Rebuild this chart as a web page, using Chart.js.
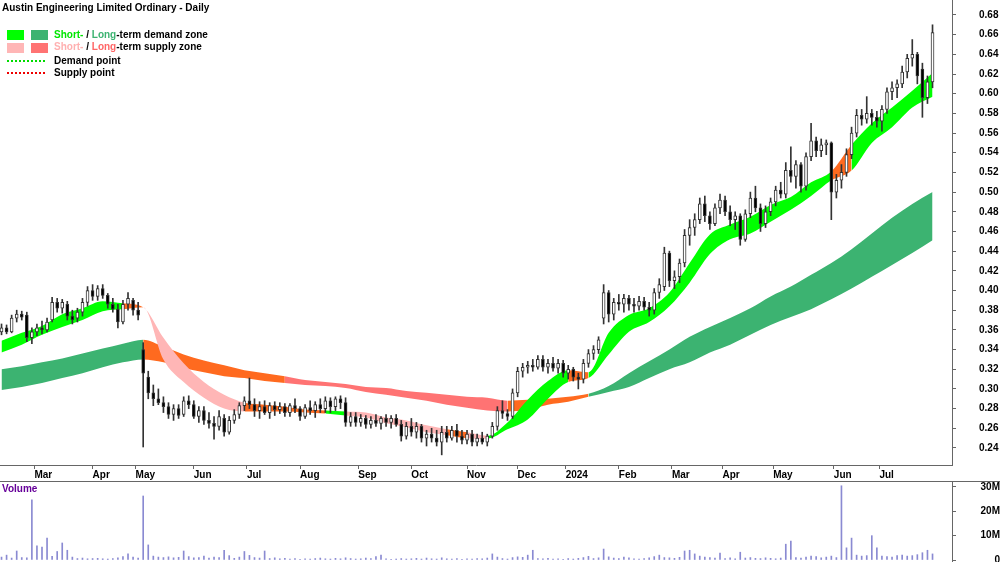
<!DOCTYPE html>
<html>
<head>
<meta charset="utf-8">
<title>Austin Engineering Limited Ordinary - Daily</title>
<script src="https://cdn.jsdelivr.net/npm/chart.js@4.4.1/dist/chart.umd.min.js"></script>
<style>
    body { margin: 0; background: #fff; }
    #wrap { position: relative; width: 1000px; height: 562px; overflow: hidden; background: #fff; }
    #priceBox { position: absolute; left: 0; top: 0; width: 1000px; height: 482px; }
    #volBox { position: absolute; left: 0; top: 481px; width: 1000px; height: 81px; border-top: 1px solid #666; box-sizing: border-box; }
    .ov { position: absolute; font: bold 10px "Liberation Sans", Arial, sans-serif; color: #000; white-space: nowrap; line-height: 12px; z-index: 2; }
    .sw { position: absolute; width: 17px; height: 10px; z-index: 2; }
    .dots { position: absolute; left: 7px; width: 38px; height: 0; border-top: 2px dotted; z-index: 2; }
</style>
</head>
<body>
<div id="wrap">
    <div id="priceBox"><canvas id="priceChart" width="1000" height="482"></canvas></div>
    <div id="volBox"><canvas id="volChart" width="1000" height="80"></canvas></div>

    <div class="ov" style="left:2px;top:2px">Austin Engineering Limited Ordinary - Daily</div>

    <div class="sw" style="left:7px;top:30px;background:#00ff00"></div>
    <div class="sw" style="left:31px;top:30px;background:#3cb371"></div>
    <div class="ov" style="left:54px;top:29px"><span style="color:#00e600">Short-</span> / <span style="color:#3cb371">Long</span>-term demand zone</div>

    <div class="sw" style="left:7px;top:43px;background:#ffb6b6"></div>
    <div class="sw" style="left:31px;top:43px;background:#ff7373"></div>
    <div class="ov" style="left:54px;top:41px"><span style="color:#ffb0b0">Short-</span> / <span style="color:#ff6666">Long</span>-term supply zone</div>

    <div class="dots" style="top:60px;border-color:#00dd00"></div>
    <div class="ov" style="left:54px;top:55px">Demand point</div>

    <div class="dots" style="top:72px;border-color:#ee0000"></div>
    <div class="ov" style="left:54px;top:67px">Supply point</div>

    <div class="ov" style="left:2px;top:483px;color:#660099">Volume</div>
</div>

<script>
// ===============================
// DATA
// ===============================
// x = trading-day number (one candle every 2 days), month ticks at first day of month
const monthIdx = [13, 36, 53, 76, 97, 118, 141, 162, 184, 204, 223, 244, 265, 285, 305, 329, 347];
const monthLabels = ['Mar', 'Apr', 'May', 'Jun', 'Jul', 'Aug', 'Sep', 'Oct', 'Nov', 'Dec',
    '2024', 'Feb', 'Mar', 'Apr', 'May', 'Jun', 'Jul'];

const priceTicks = [0.24, 0.26, 0.28, 0.30, 0.32, 0.34, 0.36, 0.38, 0.40, 0.42, 0.44, 0.46,
    0.48, 0.50, 0.52, 0.54, 0.56, 0.58, 0.60, 0.62, 0.64, 0.66, 0.68];
const volTicks = [0, 10, 20, 30]; // millions

const opens = [
    .358, .362, .358, .372, .376, .375, .352, .358, .362, .360,
    .370, .388, .382, .386, .374, .372, .378, .388, .400, .394,
    .402, .395, .386, .381, .368, .386, .390, .380, .340, .312,
    .296, .290, .286, .282, .274, .280, .274, .288, .284, .272,
    .278, .268, .265, .262, .270, .256, .268, .274, .283, .288,
    .284, .278, .282, .276, .283, .279, .282, .276, .283, .280,
    .272, .281, .278, .284, .280, .288, .282, .290, .286, .266,
    .272, .266, .270, .264, .268, .265, .270, .266, .270, .264,
    .252, .262, .256, .262, .250, .254, .250, .246, .256, .250,
    .258, .252, .248, .254, .246, .250, .246, .252, .262, .278,
    .275, .272, .296, .318, .322, .324, .322, .330, .322, .326,
    .321, .326, .316, .320, .312, .310, .326, .336, .340, .372,
    .398, .376, .388, .386, .392, .386, .384, .389, .383, .380,
    .398, .404, .438, .410, .414, .428, .456, .464, .472, .488,
    .476, .468, .484, .492, .480, .472, .476, .452, .478, .494,
    .484, .468, .480, .490, .502, .498, .522, .516, .528, .506,
    .536, .552, .542, .548, .550, .500, .512, .520, .538, .560,
    .578, .574, .580, .576, .572, .584, .602, .606, .610, .622,
    .636, .640, .625, .596, .612
];
const highs = [
    .366, .365, .375, .380, .379, .378, .362, .366, .369, .372,
    .393, .392, .391, .389, .380, .382, .392, .404, .406, .405,
    .406, .397, .392, .386, .390, .398, .392, .388, .347, .318,
    .304, .300, .292, .286, .284, .284, .292, .293, .288, .282,
    .282, .276, .272, .278, .274, .272, .279, .286, .292, .311,
    .290, .287, .288, .286, .287, .286, .285, .285, .290, .282,
    .284, .288, .287, .290, .292, .291, .292, .293, .291, .276,
    .276, .274, .273, .272, .274, .272, .274, .273, .274, .268,
    .266, .270, .266, .264, .258, .260, .258, .262, .262, .262,
    .264, .258, .258, .258, .254, .256, .254, .266, .282, .288,
    .279, .300, .322, .326, .328, .330, .334, .334, .330, .332,
    .330, .329, .324, .322, .316, .330, .340, .344, .353, .406,
    .400, .392, .396, .396, .395, .392, .394, .393, .388, .402,
    .412, .444, .440, .420, .432, .462, .472, .478, .494, .496,
    .480, .488, .498, .496, .486, .480, .478, .482, .500, .506,
    .488, .486, .494, .506, .510, .530, .546, .532, .530, .540,
    .570, .556, .554, .553, .551, .518, .528, .544, .566, .584,
    .584, .597, .584, .582, .588, .606, .612, .614, .628, .640,
    .655, .642, .631, .618, .670
];
const lows = [
    .355, .356, .357, .368, .370, .348, .346, .354, .356, .358,
    .368, .378, .377, .370, .366, .368, .374, .384, .390, .390,
    .392, .382, .378, .362, .366, .380, .375, .370, .241, .290,
    .283, .284, .276, .270, .268, .270, .272, .280, .270, .266,
    .264, .260, .249, .258, .252, .254, .265, .270, .278, .280,
    .272, .270, .274, .270, .273, .275, .272, .272, .276, .268,
    .270, .274, .271, .276, .276, .276, .278, .280, .262, .262,
    .262, .262, .260, .260, .262, .259, .262, .260, .262, .247,
    .249, .252, .250, .246, .242, .246, .242, .233, .246, .248,
    .246, .244, .244, .242, .242, .244, .242, .250, .258, .270,
    .268, .270, .292, .312, .316, .318, .320, .318, .316, .318,
    .316, .312, .310, .308, .300, .306, .322, .330, .336, .366,
    .368, .370, .380, .378, .380, .378, .380, .380, .374, .376,
    .392, .400, .404, .402, .408, .424, .446, .456, .468, .470,
    .462, .466, .478, .476, .466, .462, .446, .450, .474, .480,
    .460, .464, .476, .486, .494, .494, .510, .504, .500, .502,
    .532, .536, .536, .538, .472, .494, .504, .516, .534, .556,
    .568, .570, .568, .566, .562, .580, .594, .596, .606, .616,
    .628, .610, .576, .590, .606
];
const closes = [
    .362, .358, .372, .376, .373, .352, .358, .362, .360, .368,
    .388, .382, .388, .374, .370, .378, .388, .400, .394, .402,
    .395, .386, .381, .368, .386, .392, .380, .375, .316, .296,
    .290, .286, .282, .274, .280, .273, .288, .284, .272, .278,
    .268, .265, .262, .272, .256, .268, .274, .283, .288, .284,
    .278, .282, .276, .283, .279, .282, .276, .283, .280, .272,
    .281, .278, .284, .280, .288, .282, .290, .286, .266, .272,
    .266, .270, .264, .268, .265, .270, .266, .270, .264, .252,
    .262, .256, .262, .250, .254, .250, .246, .256, .250, .258,
    .252, .248, .254, .246, .250, .246, .252, .262, .278, .275,
    .272, .296, .318, .322, .324, .322, .330, .322, .326, .321,
    .326, .316, .320, .312, .310, .326, .336, .340, .350, .398,
    .376, .388, .386, .392, .386, .384, .389, .383, .380, .398,
    .406, .438, .410, .414, .428, .456, .464, .472, .488, .476,
    .468, .484, .492, .480, .472, .476, .452, .478, .494, .484,
    .468, .480, .490, .502, .498, .522, .516, .528, .506, .536,
    .552, .542, .548, .550, .500, .512, .520, .538, .560, .578,
    .574, .580, .576, .572, .584, .602, .606, .610, .622, .636,
    .640, .618, .596, .612, .662
];
// volume in millions of shares
const volumes = [
    1.2, 2.0, 0.8, 3.7, 1.0, 0.9, 24.7, 5.8, 5.3, 9.0,
    1.5, 3.5, 7.0, 4.0, 1.2, 0.6, 0.8, 0.5, 0.6, 0.7,
    0.5, 0.4, 0.6, 0.9, 1.4, 2.5, 1.2, 0.8, 26.3, 6.2,
    1.6, 1.2, 1.0, 1.3, 0.9, 1.1, 3.7, 1.4, 0.9, 1.0,
    1.6, 0.8, 1.2, 1.0, 4.0, 1.8, 0.7, 1.2, 3.5, 1.9,
    1.0, 0.8, 3.7, 0.6, 0.9, 0.5, 0.7, 0.4, 0.6, 0.3,
    0.5, 0.4, 0.6, 0.8, 0.5, 0.4, 0.7, 0.5, 0.9, 0.6,
    0.4, 0.5, 0.8, 0.6, 1.4, 2.0, 0.5, 0.3, 0.4, 0.6,
    0.4, 0.5, 0.7, 0.4, 0.8, 0.5, 0.4, 0.9, 0.5, 0.4,
    0.6, 0.3, 0.5, 0.4, 0.6, 0.5, 0.8, 2.5, 1.2, 0.6,
    0.4, 1.0, 1.3, 1.1, 2.0, 4.0, 0.6, 0.5, 0.7, 0.4,
    0.5, 0.3, 0.6, 0.4, 0.7, 1.0, 1.5, 0.6, 0.9, 4.5,
    1.3, 0.8, 0.6, 1.2, 0.9, 0.5, 0.4, 0.6, 0.9, 1.4,
    2.0, 1.0, 0.9, 0.7, 1.1, 3.7, 4.0, 2.5, 1.6, 1.2,
    1.0, 0.8, 2.8, 0.6, 0.9, 0.5, 3.2, 0.8, 1.0, 0.7,
    0.6, 0.9, 0.7, 0.5, 0.8, 6.5, 7.8, 1.0, 0.8, 1.2,
    1.6, 1.4, 0.9, 1.2, 1.6, 1.0, 30.5, 5.0, 9.0, 2.0,
    1.6, 1.8, 10.0, 5.0, 1.6, 1.4, 1.2, 1.8, 2.0, 1.6,
    1.8, 2.2, 3.0, 4.0, 2.5
];

// zone edges, one sample every 8 trading days
const stTop = [
    .349, .357, .364, .376, .382, .389, .387, .383, .352, .326,
    .307, .294, .286, .284, .282, .279, .278, .277, .276, .271,
    .268, .263, .259, .256, .2525, .266, .289, .308, .319, .317,
    .357, .375, .382, .398, .428, .457, .467, .475, .487, .495,
    .510, .521, .548, .570, .586, .603, .621
];
const stBot = [
    .337, .345, .355, .363, .370, .379, .381, .383, .330, .307,
    .291, .280, .277, .277, .277, .276, .275, .273, .271, .265,
    .261, .256, .253, .250, .2495, .259, .269, .290, .307, .311,
    .335, .358, .368, .384, .408, .437, .452, .458, .470, .482,
    .496, .512, .522, .550, .566, .586, .597
];
const ltTop = [
    .320, .323, .327, .331, .336, .341, .346, .350, .343, .335,
    .329, .324, .319, .316, .313, .309, .307, .305, .302, .301,
    .298, .296, .294, .292, .291, .288, .289, .290, .292, .295,
    .303, .316, .328, .340, .353, .363, .372, .382, .394, .404,
    .416, .428, .442, .458, .474, .488, .500
];
const ltBot = [
    .299, .302, .306, .311, .316, .322, .327, .330, .327, .321,
    .317, .313, .311, .308, .306, .304, .303, .301, .297, .294,
    .291, .288, .284, .281, .278, .277, .279, .284, .287, .292,
    .297, .302, .311, .320, .327, .337, .345, .355, .365, .373,
    .381, .391, .402, .414, .426, .438, .451
];
// zone state between samples: D = demand, S = supply, N = neutral (orange)
const stState = 'DDDDDDNSSS' + 'SSNNNNDSSS' + 'SSNSDDDDND' + 'DDDDDDDDDD' + 'DNDDDD';
const ltState = 'DDDDDDD' + 'NNNNNNN' + 'SSSSSSSSSSS' + 'NNNN' + 'DDDDDDDDDDDDDDDDD';


// ===============================
// CHART SETUP
// ===============================
Chart.defaults.font.family = '"Liberation Sans", Arial, sans-serif';
Chart.defaults.font.size = 10;
Chart.defaults.font.weight = 'bold';
Chart.defaults.color = '#000';

const X_MIN = -0.6;
const X_MAX = 375.7;
const AXIS_COLOR = '#666';

const stColors = { D: '#00ff00', S: '#ffb6b6', N: '#ff6a1f' };
const ltColors = { D: '#3cb371', S: '#ff7373', N: '#ff6a1f' };

const barDay = k => k * 2;
const bandDay = k => k * 8;

function zonePair(bot, top, state, colors, order) {
    const pts = arr => arr.map((v, k) => ({ x: bandDay(k), y: v }));
    const common = {
        type: 'line', borderWidth: 0, borderColor: 'rgba(0,0,0,0)',
        pointRadius: 0, cubicInterpolationMode: 'monotone', order: order
    };
    return [
        Object.assign({}, common, { data: pts(bot), fill: false }),
        Object.assign({}, common, {
            data: pts(top),
            fill: '-1',
            backgroundColor: colors.D,
            segment: { backgroundColor: ctx => colors[state[ctx.p0DataIndex]] }
        })
    ];
}

function noPadding(s) {
    s.paddingLeft = 0; s.paddingRight = 0; s.paddingTop = 0; s.paddingBottom = 0;
}

const wickData = highs.map((h, k) => ({ x: barDay(k), y: [lows[k], h] }));
const bodyData = opens.map((o, k) => ({ x: barDay(k), y: [Math.min(o, closes[k]), Math.max(o, closes[k])] }));
const bodyFill = opens.map((o, k) => closes[k] >= o ? '#ffffff' : '#000000');


// ===============================
// PRICE PANEL
// ===============================
new Chart(document.getElementById('priceChart'), {
    type: 'bar',
    data: {
        datasets: [
            ...zonePair(ltBot, ltTop, ltState, ltColors, 6),
            ...zonePair(stBot, stTop, stState, stColors, 5),
            {
                type: 'bar', data: wickData, backgroundColor: '#333',
                barThickness: 1, grouped: false, order: 2
            },
            {
                type: 'bar', data: bodyData, backgroundColor: bodyFill,
                borderColor: '#333', borderWidth: 1, borderSkipped: false,
                barThickness: 3, grouped: false, order: 1
            }
        ]
    },
    options: {
        responsive: false,
        animation: false,
        events: [],
        layout: { padding: 0, autoPadding: false },
        plugins: { legend: { display: false }, tooltip: { enabled: false } },
        scales: {
            x: {
                type: 'linear', min: X_MIN, max: X_MAX, offset: false, position: 'bottom',
                afterBuildTicks: s => { s.ticks = monthIdx.map(v => ({ value: v })); },
                afterFit: s => { s.height = 17; noPadding(s); },
                grid: { drawOnChartArea: false, offset: false, tickLength: 4, color: AXIS_COLOR },
                border: { color: AXIS_COLOR },
                ticks: {
                    align: 'start', autoSkip: false, maxRotation: 0, minRotation: 0, padding: 0,
                    callback: (v, i) => monthLabels[i]
                }
            },
            y: {
                type: 'linear', position: 'right', min: 0.2227, max: 0.6952,
                afterBuildTicks: s => { s.ticks = priceTicks.map(v => ({ value: v })); },
                afterFit: s => { s.width = 48; noPadding(s); },
                grid: { drawOnChartArea: false, tickLength: 4, color: AXIS_COLOR },
                border: { color: AXIS_COLOR },
                ticks: { crossAlign: 'near', padding: 23, callback: v => v.toFixed(2) }
            }
        }
    }
});


// ===============================
// VOLUME PANEL
// ===============================
new Chart(document.getElementById('volChart'), {
    type: 'bar',
    data: {
        datasets: [{
            data: volumes.map((v, k) => ({ x: barDay(k), y: v })),
            backgroundColor: '#8a8ad2',
            barThickness: 1,
            grouped: false
        }]
    },
    options: {
        responsive: false,
        animation: false,
        events: [],
        layout: { padding: 0, autoPadding: false },
        plugins: { legend: { display: false }, tooltip: { enabled: false } },
        scales: {
            x: { type: 'linear', min: X_MIN, max: X_MAX, offset: false, display: false },
            y: {
                type: 'linear', position: 'right', min: -0.82, max: 32.05,
                afterBuildTicks: s => { s.ticks = volTicks.map(v => ({ value: v })); },
                afterFit: s => { s.width = 48; noPadding(s); },
                grid: { drawOnChartArea: false, tickLength: 4, color: AXIS_COLOR },
                border: { color: AXIS_COLOR },
                ticks: { crossAlign: 'far', padding: 22, callback: v => v === 0 ? '0' : v + 'M' }
            }
        }
    }
});
</script>
</body>
</html>
